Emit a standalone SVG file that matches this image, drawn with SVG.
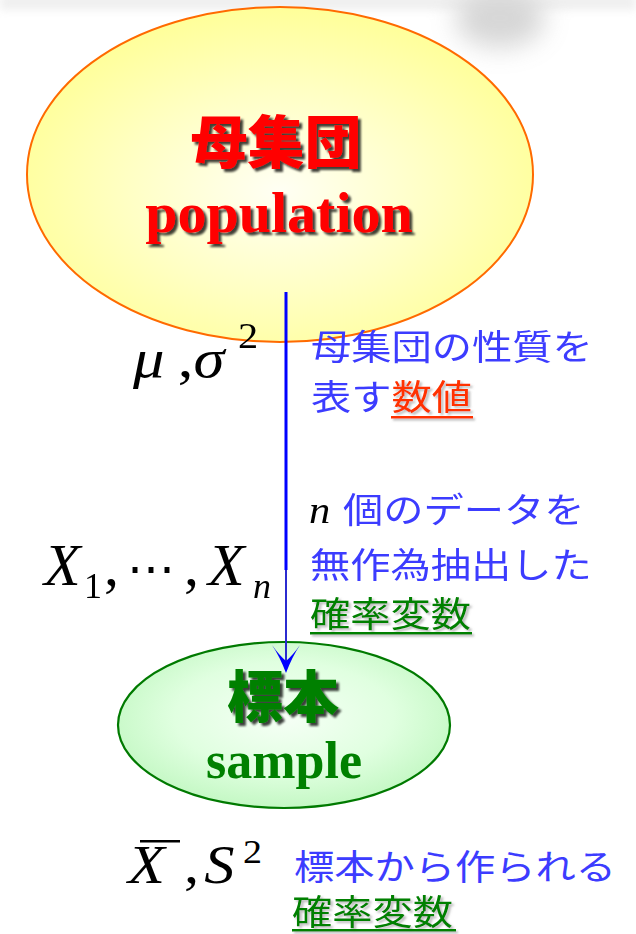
<svg xmlns="http://www.w3.org/2000/svg" width="636" height="934" viewBox="0 0 636 934">
  <defs>
    <radialGradient id="gYellow" cx="50%" cy="55%" r="55%">
      <stop offset="0" stop-color="#fffff4"/>
      <stop offset="0.55" stop-color="#ffffc4"/>
      <stop offset="1" stop-color="#ffff99"/>
    </radialGradient>
    <radialGradient id="gGreen" cx="50%" cy="45%" r="55%">
      <stop offset="0" stop-color="#f6fff6"/>
      <stop offset="0.6" stop-color="#e0ffe0"/>
      <stop offset="1" stop-color="#c4f8c4"/>
    </radialGradient>
    <filter id="shadowDark" x="-10%" y="-10%" width="130%" height="140%">
      <feDropShadow dx="3" dy="3" stdDeviation="1.2" flood-color="#000" flood-opacity="0.75"/>
    </filter>
    <filter id="shadowLight" filterUnits="userSpaceOnUse" x="0" y="0" width="636" height="934">
      <feDropShadow dx="2" dy="2" stdDeviation="1" flood-color="#777" flood-opacity="0.5"/>
    </filter>
    <filter id="blur" x="-60%" y="-100%" width="220%" height="300%">
      <feGaussianBlur stdDeviation="13"/>
    </filter>
    <filter id="blurSmall" x="-10%" y="-100%" width="120%" height="300%">
      <feGaussianBlur stdDeviation="4"/>
    </filter>
  </defs>
  <style>
    .cjk { font-family: "Noto Sans CJK JP", "Noto Sans", sans-serif; }
    .body { font-size: 35px; }
    .blue { fill: #3c3cff; }
    .green { fill: #008000; }
    .title { font-weight: 900; }
    .latin { font-family: "Liberation Serif", "Times New Roman", serif; font-weight: bold; }
    .math { font-family: "Liberation Serif", "DejaVu Serif", serif; fill: #000; }
  </style>

  <rect width="636" height="934" fill="#ffffff"/>

  <!-- faint background smudges at top -->
  <g id="background-smudge" opacity="0.4">
    <rect x="0" y="-6" width="636" height="16" fill="#d8d8d8" filter="url(#blurSmall)"/>
    <ellipse cx="500" cy="18" rx="45" ry="30" fill="#9a9a9a" filter="url(#blur)"/>
  </g>

  <!-- population node -->
  <g id="node-population">
    <ellipse cx="280" cy="174.5" rx="253" ry="167.5" fill="url(#gYellow)" stroke="#ff6a00" stroke-width="2"/>
    <text class="cjk title" x="276" y="163" font-size="57" fill="#ff0000" text-anchor="middle" filter="url(#shadowDark)">母集団</text>
    <text class="latin" x="279" y="232" font-size="58" fill="#ff0000" text-anchor="middle" filter="url(#shadowDark)">population</text>
  </g>

  <!-- sample node -->
  <g id="node-sample">
    <ellipse cx="284" cy="725" rx="166" ry="83" fill="url(#gGreen)" stroke="#007a00" stroke-width="2.2"/>
    <text class="cjk title" x="283" y="717" font-size="56" fill="#008000" text-anchor="middle" filter="url(#shadowDark)">標本</text>
    <text class="latin" x="284" y="778" font-size="52" fill="#008000" text-anchor="middle">sample</text>
  </g>

  <!-- connector -->
  <g id="connectors">
    <line x1="286" y1="292" x2="286" y2="570" stroke="#0000ff" stroke-width="3"/>
    <line x1="286" y1="570" x2="286" y2="662" stroke="#2b2bd0" stroke-width="2"/>
    <path d="M286,673 Q280,657 272,645 Q279,655 286,661 Q293,655 300,645 Q292,657 286,673 Z" fill="#0000ff"/>
  </g>

  <!-- population parameters -->
  <g id="label-params">
    <text class="math" transform="translate(133,0) scale(1.12,1)" y="377" font-size="56" font-style="italic"><tspan x="0">μ</tspan><tspan x="40" font-style="normal">,</tspan><tspan x="54">σ</tspan></text>
    <text class="math" transform="translate(238,0) scale(1.12,1)" x="0" y="348" font-size="36">2</text>
    <text class="cjk body blue" transform="translate(311,0) scale(1.15,1)" x="0" y="360">母集団の性質を</text>
    <text class="cjk body blue" transform="translate(311,0) scale(1.15,1)" x="0" y="410">表す<tspan fill="#ff3300" filter="url(#shadowLight)">数値</tspan></text>
    <rect x="391" y="416" width="82" height="2.5" fill="#ff3300" filter="url(#shadowLight)"/>
  </g>

  <!-- random sample -->
  <g id="label-sample-vars">
    <text class="math" y="585" font-size="60" font-style="italic"><tspan x="44">X</tspan><tspan x="84" y="598" font-size="36" font-style="normal">1</tspan><tspan x="104" y="585" font-style="normal">,</tspan><tspan x="127" y="585" font-size="48" font-style="normal">⋯</tspan><tspan x="184" y="585" font-style="normal">,</tspan><tspan x="208" y="585">X</tspan><tspan x="253" y="598" font-size="36">n</tspan></text>
    <text class="math" transform="translate(309,0) scale(1.12,1)" x="0" y="523" font-size="38" font-style="italic" fill="#3c3cff">n</text>
    <text class="cjk body blue" transform="translate(343,0) scale(1.15,1)" x="0" y="523">個のデータを</text>
    <text class="cjk body blue" transform="translate(310,0) scale(1.15,1)" x="0" y="578">無作為抽出した</text>
    <text class="cjk body green" transform="translate(310,0) scale(1.15,1)" x="0" y="627" filter="url(#shadowLight)">確率変数</text>
    <rect x="310" y="632" width="162" height="2.5" fill="#008000" filter="url(#shadowLight)"/>
  </g>

  <!-- statistics -->
  <g id="label-statistics">
    <rect x="140" y="840" width="40" height="2.5" fill="#000"/>
    <text class="math" transform="translate(128,0) scale(1.12,1)" y="883" font-size="54" font-style="italic"><tspan x="0">X</tspan><tspan x="50" font-style="normal">,</tspan><tspan x="68">S</tspan></text>
    <text class="math" transform="translate(243,0) scale(1.12,1)" x="0" y="863" font-size="34">2</text>
    <text class="cjk body blue" transform="translate(294,0) scale(1.15,1)" x="0" y="880">標本から作られる</text>
    <text class="cjk body green" transform="translate(292,0) scale(1.15,1)" x="0" y="925" filter="url(#shadowLight)">確率変数</text>
    <rect x="292" y="929" width="164" height="2.5" fill="#008000" filter="url(#shadowLight)"/>
  </g>
</svg>
